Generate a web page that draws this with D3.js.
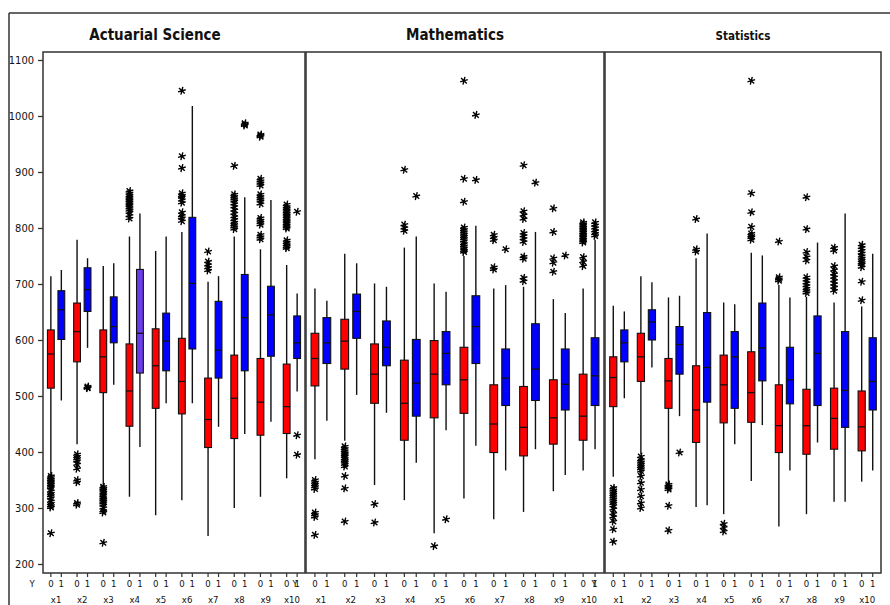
<!DOCTYPE html>
<html><head><meta charset="utf-8">
<script src="https://cdn.jsdelivr.net/npm/d3@7"></script>
<style>
html,body{margin:0;padding:0;background:#fff;}
svg text{font-family:"DejaVu Sans Condensed","DejaVu Sans",sans-serif;font-stretch:condensed;fill:#111;}
</style></head>
<body><svg id="chart" width="890" height="605"></svg>
<script>
// ---------- data ----------
const groups = ["x1","x2","x3","x4","x5","x6","x7","x8","x9","x10"];
const levels = ["0","1"];
const panelTitles = ["Actuarial Science","Mathematics","Statistics"];
const yTicks = [200,300,400,500,600,700,800,900,1000,1100];
// order of every array: x1-0, x1-1, x2-0, x2-1, ... x10-0, x10-1

// Actuarial Science
const actHigh   = [714,725, 779,746, 732,737, 785,826, 759,785, 793,1018, 704,714, 785,855, 762,850, 734,683];
const actQ3     = [618,688, 666,729, 618,677, 593,726, 620,648, 603,819, 532,669, 573,717, 567,696, 557,643];
const actMedian = [575,654, 615,690, 570,624, 509,612, 554,598, 526,701, 458,582, 496,640, 489,645, 481,595];
const actQ1     = [514,601, 561,651, 506,595, 446,541, 478,545, 468,584, 408,532, 424,545, 430,571, 433,567];
const actLow    = [356,492, 414,586, 338,520, 320,409, 287,487, 314,487, 250,445, 300,432, 320,454, 353,508];
const actOutliers = [
  [357,354,351,348,345,342,339,336,330,326,322,318,312,308,304,301,255], [],
  [396,392,388,384,378,370,350,346,309,306], [517,515,514],
  [338,335,332,328,325,322,318,315,312,309,305,300,295,292,238], [],
  [866,862,858,855,852,849,846,843,840,836,832,828,822,817], [],
  [], [],
  [1045,928,907,862,858,855,850,845,828,822,818,812], [],
  [758,740,734,729,724], [],
  [911,860,856,852,848,843,838,832,826,820,815,810,806,802,798], [987,985,983],
  [967,965,963,888,884,880,876,860,856,852,848,843,818,814,810,806,788,784,780], [],
  [842,838,835,832,829,826,823,820,817,814,811,808,805,802,799,778,774,770,767,764], [829,430,395]
];

// Mathematics
const mathHigh   = [692,670, 754,737, 701,695, 765,785, 701,686, 750,804, 692,698, 695,793, 673,648, 692,779];
const mathQ3     = [612,640, 637,682, 593,634, 564,601, 599,615, 587,679, 520,584, 517,629, 529,584, 539,604];
const mathMedian = [567,595, 598,651, 539,587, 487,523, 539,576, 529,624, 450,532, 444,548, 461,521, 464,536];
const mathQ1     = [518,558, 548,603, 487,554, 421,464, 461,520, 469,558, 399,483, 393,492, 414,475, 421,483];
const mathLow    = [387,456, 420,502, 341,470, 314,381, 255,439, 317,411, 280,367, 293,405, 330,359, 367,405];
const mathOutliers = [
  [350,346,342,338,334,292,288,284,252], [],
  [410,406,402,398,395,392,388,385,382,378,374,357,335,276], [],
  [307,274], [],
  [904,806,800,795], [857],
  [232], [280],
  [1063,888,847,801,797,793,789,785,781,777,772,768,764,760,757], [1002,886],
  [788,783,778,730,726], [762],
  [912,830,823,816,791,786,781,775,749,745,711,705], [881],
  [835,793,746,738,722], [751],
  [810,807,804,801,798,795,792,789,786,783,780,777,774,748,740,732], [810,805,800,795,790,786]
];

// Statistics
const statHigh   = [661,651, 714,703, 676,679, 746,790, 667,664, 756,751, 698,676, 677,774, 667,826, 660,754];
const statQ3     = [570,618, 612,654, 567,624, 554,649, 573,615, 579,666, 520,587, 512,643, 514,615, 509,604];
const statMedian = [533,595, 570,632, 527,592, 475,551, 520,570, 506,586, 447,529, 447,576, 460,510, 445,526];
const statQ1     = [481,561, 526,600, 478,539, 417,489, 452,478, 453,527, 399,486, 396,483, 405,444, 402,475];
const statLow    = [356,496, 396,551, 344,464, 302,305, 289,414, 348,448, 267,367, 289,417, 311,311, 347,367];
const statOutliers = [
  [336,332,328,324,320,316,312,308,304,298,290,284,276,262,240], [],
  [392,386,382,378,374,370,366,357,345,333,321,309,300], [],
  [342,339,336,333,304,260], [399],
  [816,762,758], [],
  [272,265,258], [],
  [1063,862,828,802,790,786,783,779], [],
  [776,712,709,706], [],
  [855,798,757,748,742,712,707,702,697,692,688,684], [],
  [765,760,732,725,718,712,706,700,694,688], [],
  [770,765,760,755,750,746,742,738,735,730,704,671], []
];

const boxColors = {"0":"#ff0000","1":"#0000ff"};
const specialColor = {panel:0, index:7, color:"#6a3cec"}; // Actuarial x4, Y=1 box is violet

// ---------- layout ----------
const svg = d3.select("#chart");
const plotTop = 52, plotBottom = 573;
const panelRanges = [[43,305],[306,604],[605,881]];
const y = d3.scaleLinear().domain([200,1100]).range([564,60]);

// outer frame
svg.append("line").attr("x1",9).attr("x2",890).attr("y1",13).attr("y2",13).attr("stroke","#333").attr("stroke-width",1.5);
svg.append("line").attr("x1",9).attr("x2",9).attr("y1",13).attr("y2",605).attr("stroke","#333").attr("stroke-width",1.5);

const panelData = [
  {high:actHigh,q3:actQ3,med:actMedian,q1:actQ1,low:actLow,out:actOutliers},
  {high:mathHigh,q3:mathQ3,med:mathMedian,q1:mathQ1,low:mathLow,out:mathOutliers},
  {high:statHigh,q3:statQ3,med:statMedian,q1:statQ1,low:statLow,out:statOutliers}
];
const titleSizes = [15,15,11.5];

function starPath(r){
  let p="";
  for(let k=0;k<3;k++){
    const a = Math.PI/2 + k*Math.PI/3 + 0.25;
    const dx = r*Math.cos(a), dy = r*Math.sin(a);
    p += `M${(-dx).toFixed(2)},${(-dy).toFixed(2)}L${dx.toFixed(2)},${dy.toFixed(2)}`;
  }
  return p;
}
const star = starPath(4);

panelData.forEach((pd, pi) => {
  const [x0,x1] = panelRanges[pi];
  const xg = d3.scaleBand().domain(groups).range([x0,x1]).paddingInner(0).paddingOuter(0);
  const step = xg.bandwidth();
  const off = step*0.2;
  const xl = d3.scalePoint().domain(levels).range([-off,off]);
  const bw = step*0.26;
  const cx = (g,l) => xg(g) + step/2 + xl(l);

  const g = svg.append("g");

  // title
  g.append("text").attr("x",(x0+x1)/2 + (pi===0?-19:0)).attr("y",40)
    .attr("text-anchor","middle").attr("font-weight","bold").attr("font-size",titleSizes[pi])
    .text(panelTitles[pi]);

  // items
  const items = [];
  groups.forEach((gr,gi)=>levels.forEach((lv,li)=>{
    const i = gi*2+li;
    items.push({g:gr,l:lv,i,high:pd.high[i],q3:pd.q3[i],med:pd.med[i],q1:pd.q1[i],low:pd.low[i],out:pd.out[i]});
  }));

  // whiskers
  g.selectAll(".wh").data(items).join("line")
    .attr("x1",d=>cx(d.g,d.l)).attr("x2",d=>cx(d.g,d.l))
    .attr("y1",d=>y(d.high)).attr("y2",d=>y(d.low))
    .attr("stroke","#111").attr("stroke-width",1.4);

  // boxes
  g.selectAll(".bx").data(items).join("rect")
    .attr("x",d=>cx(d.g,d.l)-bw/2).attr("width",bw)
    .attr("y",d=>y(d.q3)).attr("height",d=>y(d.q1)-y(d.q3))
    .attr("fill",d=> (pi===specialColor.panel && d.i===specialColor.index) ? specialColor.color : boxColors[d.l])
    .attr("stroke","#111").attr("stroke-width",1.1);

  // medians
  g.selectAll(".md").data(items).join("line")
    .attr("x1",d=>cx(d.g,d.l)-bw/2).attr("x2",d=>cx(d.g,d.l)+bw/2)
    .attr("y1",d=>y(d.med)).attr("y2",d=>y(d.med))
    .attr("stroke","#111").attr("stroke-width",1.3);

  // outliers
  const outs = [];
  items.forEach(d=>d.out.forEach(v=>outs.push({g:d.g,l:d.l,v})));
  g.selectAll(".ot").data(outs).join("path")
    .attr("d",star)
    .attr("transform",d=>`translate(${cx(d.g,d.l)},${y(d.v)})`)
    .attr("stroke","#000").attr("stroke-width",1.4).attr("fill","none");

  // panel frame
  g.append("rect").attr("x",x0).attr("y",plotTop).attr("width",x1-x0).attr("height",plotBottom-plotTop)
    .attr("fill","none").attr("stroke","#333").attr("stroke-width",1.5);

  // bottom ticks + labels
  g.selectAll(".tk").data(items).join("line")
    .attr("x1",d=>cx(d.g,d.l)).attr("x2",d=>cx(d.g,d.l))
    .attr("y1",plotBottom).attr("y2",plotBottom+4)
    .attr("stroke","#333").attr("stroke-width",1.2);
  g.selectAll(".tl").data(items).join("text")
    .attr("x",d=>cx(d.g,d.l)).attr("y",587).attr("text-anchor","middle").attr("font-size",9.5)
    .text(d=>d.l);
  g.selectAll(".gl").data(groups).join("text")
    .attr("x",d=>xg(d)+step/2).attr("y",603).attr("text-anchor","middle").attr("font-size",9.5)
    .text(d=>d);
  g.append("text").attr("x",x0-11).attr("y",587).attr("text-anchor","middle").attr("font-size",9.5).text("Y");

  if(pi===0){
    const ax = d3.axisLeft(y).tickValues(yTicks).tickSize(5).tickPadding(4).tickFormat(d3.format("d"));
    const ag = svg.append("g").attr("transform",`translate(${x0},0)`).call(ax);
    ag.select(".domain").remove();
    ag.selectAll("line").attr("stroke","#333").attr("stroke-width",1.3);
    ag.selectAll("text").attr("font-size",11);
  }
});
</script></body></html>
